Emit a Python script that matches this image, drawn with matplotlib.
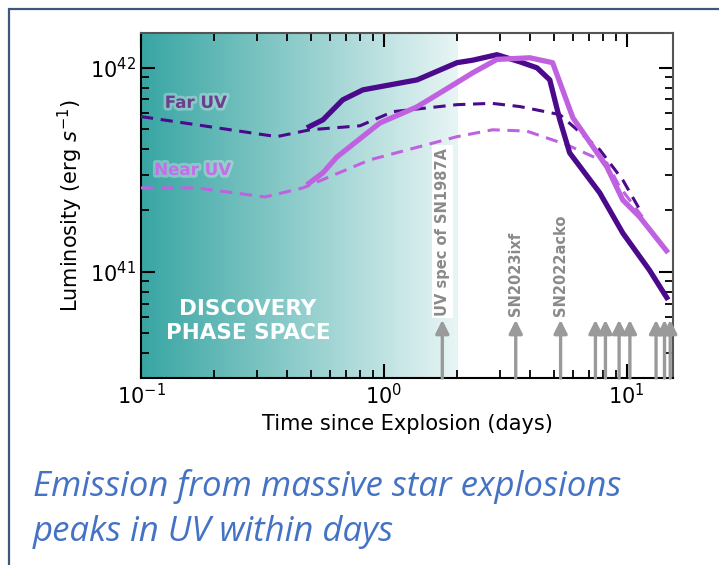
import numpy as np
from matplotlib import pyplot as plt
from matplotlib.patches import Rectangle
import matplotlib.patheffects as pe

# light curves (days, erg/s)
far_dash_t = [0.1, 0.362, 0.496, 0.797, 1.09, 2.0, 2.78, 3.63, 5.3, 7.74, 9.63, 11.5]
far_dash_L = [5.77e41, 4.6e41, 4.97e41, 5.2e41, 6.1e41, 6.6e41, 6.7e41, 6.46e41, 5.9e41, 3.97e41, 2.82e41, 1.95e41]

near_dash_t = [0.1, 0.17, 0.324, 0.464, 0.876, 2.0, 2.8, 3.87, 5.66, 8.28, 9.35, 11.6]
near_dash_L = [2.58e41, 2.58e41, 2.33e41, 2.58e41, 3.54e41, 4.6e41, 4.97e41, 4.9e41, 4.2e41, 3.42e41, 2.61e41, 1.86e41]

far_solid_t = [0.482, 0.561, 0.677, 0.82, 1.37, 2.0, 2.32, 2.92, 3.63, 4.27, 4.82, 5.3, 5.82, 7.74, 9.63, 12.4, 14.8]
far_solid_L = [5.08e41, 5.56e41, 6.97e41, 7.8e41, 8.73e41, 1.06e42, 1.09e42, 1.16e42, 1.07e42, 1.0e42, 8.73e41,
               5.56e41, 3.83e41, 2.44e41, 1.55e41, 1.02e41, 7.3e40]

near_solid_t = [0.482, 0.561, 0.641, 0.963, 1.37, 1.87, 2.32, 2.92, 3.99, 4.95, 6.0, 8.28, 9.63, 11.3, 14.8]
near_solid_L = [2.67e41, 3.06e41, 3.66e41, 5.37e41, 6.44e41, 8.07e41, 9.45e41, 1.1e42, 1.12e42, 1.06e42,
                5.69e41, 3.27e41, 2.25e41, 1.86e41, 1.24e41]

# discovery epochs of observed SNe (days)
arrow_t = [1.74, 3.49, 5.34, 7.43, 8.17, 9.3, 10.3, 13.2, 14.3, 15.1]
arrow_labels = {0: 'UV spec of SN1987A', 1: 'SN2023ixf', 2: 'SN2022acko'}

discovery_end = 2.0
xlim = (0.1, 15.5)
ylim = (3.02e40, 1.49e42)

dark = '#4b0a8c'
light = '#c062e0'
gray = '#9a9a9a'

fig = plt.figure(figsize=(7.19, 5.65), dpi=100)
fig.patches.append(Rectangle((9/719, -0.1), 2, 1 - 9/565 + 0.1, transform=fig.transFigure,
                             fill=False, edgecolor='#42557a', lw=1.6))

ax = fig.add_axes([141/719, 1 - 378/565, 532/719, 345.5/565])
ax.set_xscale('log')
ax.set_yscale('log')
ax.set_xlim(*xlim)
ax.set_ylim(*ylim)

# gradient shading of the discovery phase space
frac = (np.log10(discovery_end) - np.log10(xlim[0])) / (np.log10(xlim[1]) - np.log10(xlim[0]))
c0 = np.array([0.22, 0.65, 0.64])
c1 = np.array([0.91, 0.96, 0.96])
s = np.linspace(0, 1, 256)
grad = c0[None, :] * (1 - s[:, None]) + c1[None, :] * s[:, None]
ax.imshow(grad[None, :, :], extent=[0, frac, 0, 1], transform=ax.transAxes, aspect='auto', zorder=0)

ax.plot(far_dash_t, far_dash_L, color=dark, lw=2.2, ls=(0, (4, 2.5)), zorder=3)
ax.plot(near_dash_t, near_dash_L, color=light, lw=2.2, ls=(0, (4, 2.5)), zorder=3)
ax.plot(far_solid_t, far_solid_L, color=dark, lw=3.8, zorder=4, solid_capstyle='butt')
ax.plot(near_solid_t, near_solid_L, color=light, lw=3.8, zorder=4, solid_capstyle='butt')

tip = 5.82e40
for i, t in enumerate(arrow_t):
    ax.annotate('', xy=(t, tip), xytext=(t, ylim[0]),
                arrowprops=dict(arrowstyle='-|>', color=gray, lw=2.4, mutation_scale=20,
                                shrinkA=0, shrinkB=0), zorder=5)
    if i in arrow_labels:
        bbox = dict(facecolor='white', edgecolor='none', pad=2) if i == 0 else None
        ax.text(t, 6.1e40, arrow_labels[i], rotation=90, ha='center', va='bottom',
                color='#8a8a8a', fontsize=10.5, fontweight='bold', bbox=bbox, zorder=6)

glow = [pe.withStroke(linewidth=4, foreground='white', alpha=0.3)]
ax.text(0.168, 6.74e41, 'Far UV', color='#6a3f8c', fontsize=12, fontweight='bold',
        ha='center', va='center', path_effects=glow, zorder=6)
ax.text(0.163, 3.16e41, 'Near UV', color='#c46ee8', fontsize=12, fontweight='bold',
        ha='center', va='center', path_effects=glow, zorder=6)
ax.text(0.201, 0.165, 'DISCOVERY\nPHASE SPACE', transform=ax.transAxes, color='white',
        fontsize=15.5, fontweight='bold', ha='center', va='center', linespacing=1.25, zorder=6)

ax.tick_params(which='both', direction='in', top=True, right=True, width=1.5)
ax.tick_params(which='major', length=10, labelsize=15)
ax.tick_params(which='minor', length=6, width=1.3)
for sp in ax.spines.values():
    sp.set_linewidth(1.5)
ax.spines['top'].set_color('#555555')
ax.spines['right'].set_color('#555555')

ax.set_xlabel('Time since Explosion (days)', fontsize=15)
ax.set_ylabel('Luminosity (erg $s^{-1}$)', fontsize=15)

fig.text(33/719, 1 - 487/565, 'Emission from massive star explosions', fontsize=25,
         style='italic', color='#4472c4', family='Open Sans', va='center')
fig.text(33/719, 1 - 532/565, 'peaks in UV within days', fontsize=25,
         style='italic', color='#4472c4', family='Open Sans', va='center')

fig.savefig('out.png', dpi=100)
